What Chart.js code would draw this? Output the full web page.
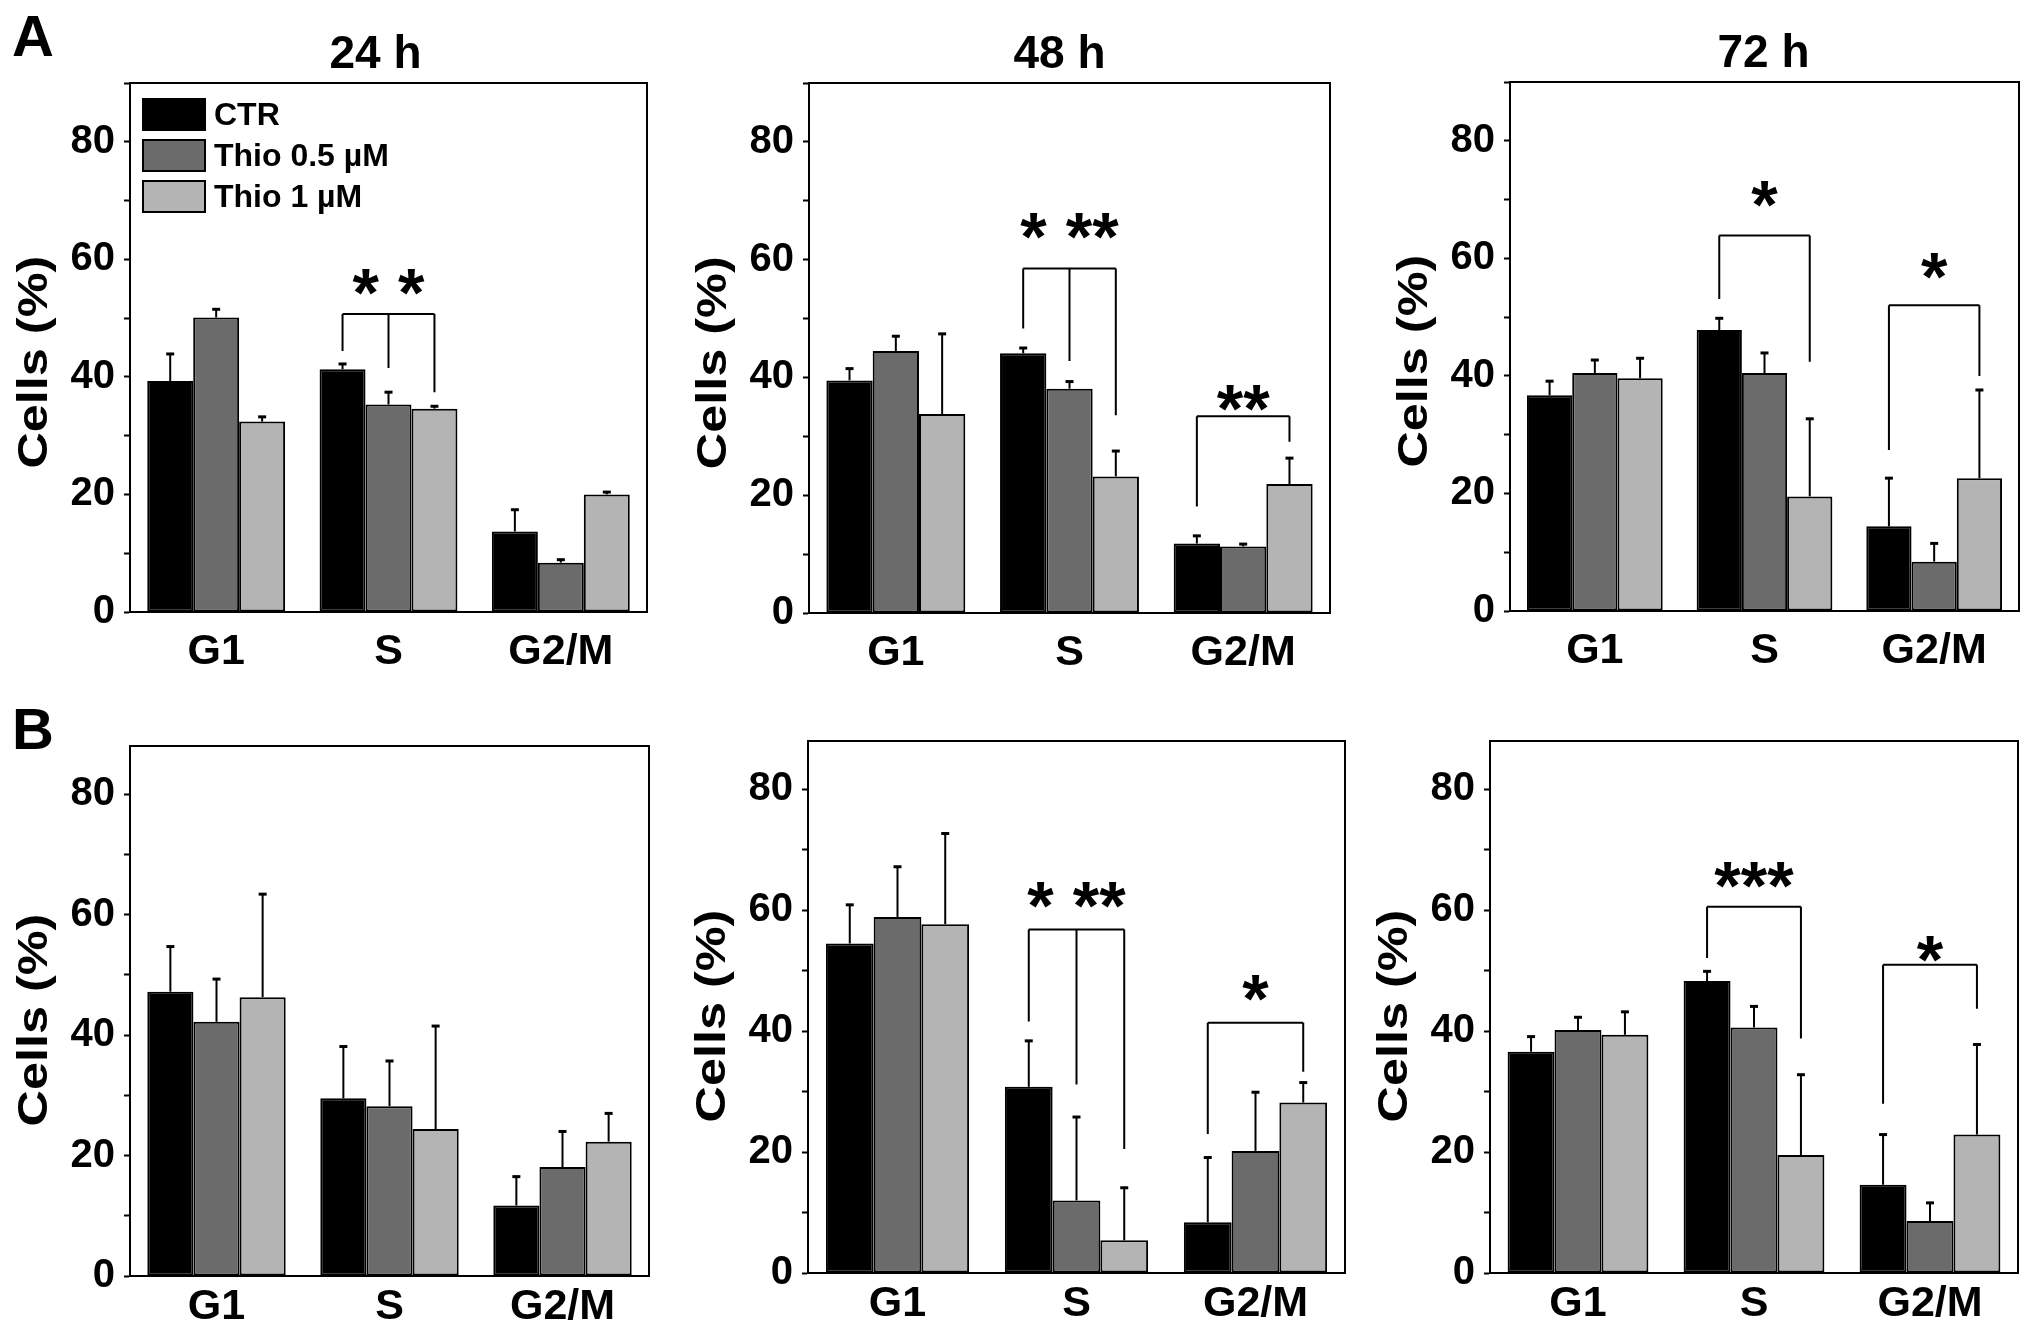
<!DOCTYPE html>
<html>
<head>
<meta charset="utf-8">
<title>Cell cycle distribution</title>
<script src="https://cdn.jsdelivr.net/npm/chart.js@4.4.1/dist/chart.umd.min.js"></script>
<style>
  body { margin: 0; background: #fff; width: 2031px; height: 1338px; position: relative; overflow: hidden;
         font-family: "Liberation Sans", Arial, sans-serif; }
  .panel { position: absolute; }
  .tag { position: absolute; font-weight: bold; font-size: 58px; line-height: 1; }
</style>
</head>
<body>
<div class="tag" style="left:12px;top:7px">A</div>
<div class="tag" style="left:12px;top:700px">B</div>
<script>
// categories / series
var phases = ['G1', 'S', 'G2/M'];
var groups = ['CTR', 'Thio 0.5 µM', 'Thio 1 µM'];
var times = ['24 h', '48 h', '72 h'];
var yTickLabels = [0, 20, 40, 60, 80];

// means (% cells), one row per group, one value per phase
var a24Mean = [[39.3, 41.3, 13.7], [50.1, 35.3, 8.4], [32.4, 34.6, 20.0]];
var a24Sd   = [[4.6, 0.9, 3.7], [1.4, 2.1, 0.5], [0.8, 0.4, 0.4]];
var a48Mean = [[39.5, 44.1, 11.8], [44.5, 38.1, 11.3], [33.8, 23.2, 21.9]];
var a48Sd   = [[2.0, 0.9, 1.3], [2.5, 1.2, 0.4], [13.6, 4.3, 4.4]];
var a72Mean = [[36.7, 47.8, 14.4], [40.5, 40.5, 8.4], [39.6, 19.5, 22.6]];
var a72Sd   = [[2.4, 2.0, 8.2], [2.2, 3.4, 3.1], [3.4, 13.2, 15.0]];
var b24Mean = [[47.2, 29.5, 11.7], [42.2, 28.2, 18.1], [46.3, 24.4, 22.3]];
var b24Sd   = [[7.5, 8.6, 4.8], [7.1, 7.5, 5.9], [17.1, 17.1, 4.7]];
var b48Mean = [[54.5, 30.8, 8.4], [58.9, 12.0, 20.2], [57.7, 5.4, 28.2]];
var b48Sd   = [[6.4, 7.6, 10.7], [8.3, 13.8, 9.7], [15.0, 8.7, 3.3]];
var b72Mean = [[36.6, 48.3, 14.6], [40.2, 40.6, 8.6], [39.4, 19.5, 22.9]];
var b72Sd   = [[2.5, 1.6, 8.3], [2.1, 3.5, 3.0], [3.8, 13.3, 14.9]];

// significance brackets (values in % units)
var a24Sig = [{ phase: 1, bars: [0, 1, 2], ends: [44.4, 41.5, 37.4], top: 50.7, label: '* *', labelAt: 55.9 }];
var a48Sig = [{ phase: 1, bars: [0, 1, 2], ends: [48.3, 42.8, 33.6], top: 58.5, label: '* **', labelAt: 65.6 },
              { phase: 2, bars: [0, 2], ends: [18.1, 29.1], top: 33.4, label: '**', labelAt: 36.4 }];
var a72Sig = [{ phase: 1, bars: [0, 2], ends: [53.1, 42.4], top: 63.9, label: '*', labelAt: 70.7 },
              { phase: 2, bars: [0, 2], ends: [27.4, 40.0], top: 52.0, label: '*', labelAt: 58.5 }];
var b24Sig = [];
var b48Sig = [{ phase: 1, bars: [0, 1, 2], ends: [41.6, 31.2, 20.5], top: 56.8, label: '* **', labelAt: 62.3 },
              { phase: 2, bars: [0, 2], ends: [23.0, 33.3], top: 41.4, label: '*', labelAt: 46.9 }];
var b72Sig = [{ phase: 1, bars: [0, 2], ends: [52.1, 38.8], top: 60.6, label: '***', labelAt: 65.7 },
              { phase: 2, bars: [0, 2], ends: [28.0, 43.7], top: 51.0, label: '*', labelAt: 53.4 }];

var barColors = ['#000000', '#6b6b6b', '#b4b4b4'];
var FONT = "'Liberation Sans', Arial, sans-serif";
Chart.defaults.font.family = FONT;
Chart.defaults.color = '#000';

function makePanel(box, title, means, sds, sig, withLegend) {
    var AX = 140, PT = 80, PR = 12, XH = box.xh;
    var div = document.createElement('div');
    div.className = 'panel';
    div.style.left = (box.L - AX) + 'px';
    div.style.top = (box.T - PT) + 'px';
    div.style.width = (box.R - box.L + AX + PR) + 'px';
    div.style.height = (box.B - box.T + PT + XH) + 'px';
    var cv = document.createElement('canvas');
    div.appendChild(cv);
    document.body.appendChild(div);

    // frame, error bars, brackets, titles, legend
    var decor = {
        id: 'decor',
        afterDatasetsDraw: function (chart) {
            var ctx = chart.ctx, y = chart.scales.y;
            ctx.save();
            ctx.strokeStyle = '#000';
            sds.forEach(function (row, i) {
                var meta = chart.getDatasetMeta(i);
                row.forEach(function (sd, j) {
                    var bar = meta.data[j];
                    var yTop = y.getPixelForValue(means[i][j] + sd);
                    ctx.lineWidth = 2;
                    ctx.beginPath();
                    ctx.moveTo(bar.x, bar.y);
                    ctx.lineTo(bar.x, yTop);
                    ctx.stroke();
                    ctx.lineWidth = 3;
                    ctx.beginPath();
                    ctx.moveTo(bar.x - 4, yTop);
                    ctx.lineTo(bar.x + 4, yTop);
                    ctx.stroke();
                });
            });
            sig.forEach(function (m) {
                var xs = m.bars.map(function (b) { return chart.getDatasetMeta(b).data[m.phase].x; });
                var top = y.getPixelForValue(m.top);
                ctx.lineWidth = 2;
                ctx.beginPath();
                ctx.moveTo(xs[0], top);
                ctx.lineTo(xs[xs.length - 1], top);
                xs.forEach(function (x, k) {
                    ctx.moveTo(x, top);
                    ctx.lineTo(x, y.getPixelForValue(m.ends[k]));
                });
                ctx.stroke();
                ctx.fillStyle = '#000';
                ctx.font = 'bold 68px ' + FONT;
                ctx.textAlign = 'center';
                ctx.textBaseline = 'alphabetic';
                ctx.fillText(m.label, (xs[0] + xs[xs.length - 1]) / 2, y.getPixelForValue(m.labelAt) + 33);
            });
            ctx.restore();
        },
        afterDraw: function (chart) {
            var ctx = chart.ctx, a = chart.chartArea, y = chart.scales.y;
            ctx.save();
            ctx.strokeStyle = '#000';
            ctx.lineWidth = 2;
            ctx.strokeRect(a.left, a.top, a.right - a.left, a.bottom - a.top);
            ctx.fillStyle = '#000';
            // axis title, a little elongated like the original
            ctx.save();
            ctx.translate(a.left - 95, y.getPixelForValue(42.5));
            ctx.rotate(-Math.PI / 2);
            ctx.scale(1.2, 1);
            ctx.font = 'bold 42px ' + FONT;
            ctx.textAlign = 'center';
            ctx.textBaseline = 'middle';
            ctx.fillText('Cells (%)', 0, 0);
            ctx.restore();
            if (title) {
                ctx.font = 'bold 46px ' + FONT;
                ctx.textAlign = 'center';
                ctx.textBaseline = 'middle';
                ctx.fillText(title, (a.left + a.right) / 2 + box.tx, a.top - 28);
            }
            if (withLegend) {
                ctx.font = 'bold 32px ' + FONT;
                ctx.textAlign = 'left';
                ctx.textBaseline = 'middle';
                groups.forEach(function (g, i) {
                    var ty = a.top + 16 + i * 41;
                    ctx.fillStyle = barColors[i];
                    ctx.fillRect(a.left + 13, ty, 62, 31);
                    ctx.strokeRect(a.left + 13, ty, 62, 31);
                    ctx.fillStyle = '#000';
                    ctx.fillText(g, a.left + 84, ty + 17);
                });
            }
            ctx.restore();
        }
    };

    new Chart(cv, {
        type: 'bar',
        data: {
            labels: phases,
            datasets: groups.map(function (g, i) {
                return {
                    label: g,
                    data: means[i],
                    backgroundColor: barColors[i],
                    borderColor: '#000',
                    borderWidth: 2,
                    borderSkipped: false,
                    categoryPercentage: 0.8,
                    barPercentage: 1.0
                };
            })
        },
        options: {
            responsive: true,
            maintainAspectRatio: false,
            animation: false,
            devicePixelRatio: 1,
            layout: { padding: { top: PT, right: PR, left: 0, bottom: 0 } },
            plugins: { legend: { display: false }, tooltip: { enabled: false } },
            scales: {
                x: {
                    grid: { display: false },
                    border: { display: true, color: '#000', width: 2 },
                    ticks: { font: { size: 43, weight: 'bold' }, padding: box.xpad, maxRotation: 0, autoSkip: false, color: '#000' },
                    afterFit: function (s) { s.height = XH; }
                },
                y: {
                    min: 0,
                    max: box.max,
                    grid: { drawOnChartArea: false, drawTicks: true, tickLength: 6, tickWidth: 2, color: '#000' },
                    border: { display: true, color: '#000', width: 2 },
                    ticks: {
                        stepSize: 10,
                        padding: 9,
                        autoSkip: false,
                        color: '#000',
                        font: { size: 40, weight: 'bold' },
                        callback: function (v) { return yTickLabels.indexOf(v) >= 0 ? String(v) : ''; }
                    },
                    afterBuildTicks: function (s) {
                        s.ticks = s.ticks.filter(function (t) { return t.value % 10 === 0; });
                    },
                    afterFit: function (s) { s.width = AX; }
                }
            }
        },
        plugins: [decor]
    });
}

makePanel({ L: 130, R: 647, T: 83, B: 612, max: 90, tx: -13, xh: 80, xpad: 6 }, times[0], a24Mean, a24Sd, a24Sig, true);
makePanel({ L: 809, R: 1330, T: 83, B: 613, max: 90, tx: -10, xh: 80, xpad: 6 }, times[1], a48Mean, a48Sd, a48Sig, false);
makePanel({ L: 1510, R: 2019, T: 82, B: 611, max: 90, tx: -1, xh: 80, xpad: 6 }, times[2], a72Mean, a72Sd, a72Sig, false);
makePanel({ L: 130, R: 649, T: 746, B: 1276, max: 88, tx: 0, xh: 60, xpad: -3 }, null, b24Mean, b24Sd, b24Sig, false);
makePanel({ L: 808, R: 1345, T: 741, B: 1273, max: 88, tx: 0, xh: 60, xpad: -3 }, null, b48Mean, b48Sd, b48Sig, false);
makePanel({ L: 1490, R: 2018, T: 741, B: 1273, max: 88, tx: 0, xh: 60, xpad: -3 }, null, b72Mean, b72Sd, b72Sig, false);
</script>
</body>
</html>
